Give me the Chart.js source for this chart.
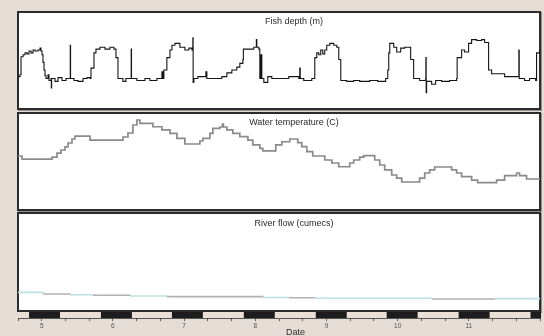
<!DOCTYPE html>
<html><head><meta charset="utf-8">
<script src="https://cdn.jsdelivr.net/npm/chart.js@4.4.1/dist/chart.umd.min.js"></script>
<style>
html,body{margin:0;padding:0;width:544px;height:336px;overflow:hidden;background:#e5dcd5;font-family:"Liberation Sans",Arial,sans-serif;}
.panel{position:absolute;left:17px;width:524px;box-sizing:border-box;border:2px solid #2c2c2c;background:#fff;box-shadow:1px 1px 0 #8e8e8e;}
canvas{position:absolute;left:17px;}
.ttl{position:absolute;left:294px;transform:translateX(-50%);font-size:9px;line-height:11px;color:#2a2a2a;white-space:nowrap;}
</style></head><body>
<div class="panel" style="top:11px;height:99px"></div>
<div class="panel" style="top:112px;height:99px"></div>
<div class="panel" style="top:212px;height:100px"></div>
<canvas id="c1" width="524" height="99" style="top:11px;width:524px;height:99px"></canvas>
<canvas id="c2" width="524" height="99" style="top:112px;width:524px;height:99px"></canvas>
<canvas id="c3" width="524" height="130" style="top:212px;width:524px;height:130px"></canvas>
<div class="ttl" style="top:15.5px">Fish depth (m)</div>
<div class="ttl" style="top:116.5px">Water temperature (C)</div>
<div class="ttl" style="top:217.5px">River flow (cumecs)</div>
<div class="ttl" style="top:327px;left:295.5px">Date</div>
<script>
// ---- data ----
const dayLabels = [5, 6, 7, 8, 9, 10, 11];

const depthDays = [
 4.667,4.695,4.709,4.738,4.766,4.794,4.822,4.850,4.878,4.906,
 4.948,4.976,4.990,5.004,5.018,5.032,5.046,5.060,5.088,5.102,
 5.131,5.135,5.139,5.187,5.229,5.285,5.341,5.397,5.401,5.405,
 5.453,5.509,5.580,5.636,5.678,5.692,5.734,5.762,5.818,5.888,
 5.958,6.015,6.043,6.071,6.141,6.183,6.253,6.257,6.261,6.337,
 6.450,6.520,6.618,6.688,6.702,6.716,6.758,6.801,6.829,6.871,
 6.941,7.011,7.067,7.109,7.123,7.127,7.137,7.194,7.264,7.306,
 7.320,7.404,7.502,7.530,7.601,7.671,7.741,7.783,7.826,7.833,
 7.923,7.979,8.015,8.022,8.050,8.064,8.078,8.092,8.120,8.176,
 8.232,8.471,8.611,8.625,8.632,8.681,8.794,8.836,8.864,8.892,
 8.920,8.948,8.976,9.004,9.047,9.103,9.145,9.173,9.201,9.285,
 9.383,9.467,9.608,9.720,9.832,9.861,9.875,9.889,9.945,9.987,
 10.043,10.099,10.155,10.183,10.225,10.309,10.393,10.397,10.401,10.407,
 10.478,10.534,10.618,10.730,10.829,10.836,10.899,10.941,10.997,11.039,
 11.110,11.180,11.222,11.278,11.320,11.432,11.503,11.629,11.699,11.703,
 11.708,11.783,11.853,11.938,11.952,11.994,12.0];
const depthMetres = [
 6.7,6.5,4.6,4.4,4.2,4.3,4.0,4.2,3.9,4.0,
 3.9,3.7,4.0,4.4,5.2,6.0,6.6,6.9,6.5,7.1,
 6.9,7.9,6.9,7.2,6.8,7.1,6.9,6.9,3.4,6.9,
 7.1,7.2,6.9,6.8,6.9,5.8,4.2,3.8,3.6,3.8,
 3.6,3.8,4.7,6.9,7.2,6.9,6.9,3.8,6.9,7.1,
 6.9,7.1,6.9,6.2,6.9,6.0,4.7,3.9,3.4,3.2,
 3.6,3.9,3.7,3.9,2.6,7.3,6.9,6.7,6.7,6.2,
 6.9,6.9,6.9,6.7,6.3,6.0,5.7,5.3,4.9,3.8,
 3.8,3.6,2.8,3.6,3.8,6.9,4.4,6.9,7.3,6.7,
 6.9,6.7,6.9,5.8,6.9,7.1,6.9,4.7,4.2,4.4,
 3.9,4.3,3.9,3.4,3.2,3.4,3.6,4.9,7.1,7.2,
 7.1,7.2,7.1,7.2,6.9,6.0,4.2,3.2,3.6,4.1,
 3.7,3.6,3.6,4.9,6.9,7.1,6.9,4.7,8.4,7.2,
 7.5,7.1,7.2,7.1,6.9,4.7,3.9,4.1,3.2,2.8,
 2.9,2.8,3.1,6.0,6.4,6.4,6.7,6.7,6.7,3.9,
 6.9,7.1,6.9,7.1,4.2,4.1,4.1];

const tempDays = [4.667,4.724,5.145,5.215,5.271,5.327,5.369,5.425,5.467,5.678,
 6.141,6.211,6.281,6.337,6.380,6.562,6.688,6.801,6.899,7.011,
 7.222,7.264,7.362,7.404,7.502,7.538,7.552,7.601,7.685,7.783,
 7.896,7.966,8.064,8.106,8.288,8.373,8.485,8.597,8.653,8.724,
 8.808,8.976,9.075,9.173,9.327,9.383,9.467,9.524,9.678,9.748,
 9.818,9.917,9.987,10.057,10.309,10.380,10.450,10.520,10.759,10.829,
 10.899,11.039,11.124,11.390,11.503,11.671,11.713,11.811,12.0];
const tempC = [15.58,15.26,15.47,15.89,16.21,16.53,16.95,17.37,17.68,17.26,
 17.58,18.0,18.84,19.37,19.02,18.66,18.32,17.97,17.44,16.84,
 17.16,17.44,17.97,18.49,18.63,18.95,18.63,18.32,17.97,17.61,
 17.26,16.74,16.39,16.11,16.74,17.08,17.37,16.98,16.56,16.03,
 15.58,15.16,14.84,14.45,14.84,15.16,15.47,15.61,15.16,14.63,
 14.11,13.58,13.26,12.84,13.26,13.79,14.11,14.42,14.11,13.79,
 13.4,13.05,12.77,13.05,13.51,13.79,13.51,13.16,13.16];

const flowDays = [4.667,5.018,5.397,5.720,6.239,6.758,8.106,8.471,8.836,10.478,11.362,12.0];
const flowCumecs = [18.4,16.7,15.9,15.3,14.6,13.9,13.0,12.8,12.2,11.5,11.8,11.8];

const nightStart = [4.822,5.832,6.829,7.839,8.850,9.846,10.857,11.867];
const nightEnd   = [5.257,6.267,7.264,8.274,9.285,10.281,11.292,12.3];

// ---- chart setup ----
const X_MIN = 14/3, X_MAX = 12;
const tickVals = [];
for (let k = 14; k <= 36; k++) tickVals.push(k/3);
const pts = (xs, ys) => xs.map((x, i) => ({x, y: ys[i]}));

Chart.defaults.font.family = '"Liberation Sans", Arial, sans-serif';

function opts(yMin, yMax, reverse, padBottom) {
  return {
    responsive:false, animation:false, devicePixelRatio:1,
    layout:{padding:{left:1,right:1,top:2,bottom:padBottom}},
    plugins:{legend:{display:false}, tooltip:{enabled:false}, title:{display:false}},
    elements:{point:{radius:0}},
    scales:{
      x:{type:'linear', min:X_MIN, max:X_MAX, display:false},
      y:{min:yMin, max:yMax, reverse:reverse, display:false}
    }
  };
}

new Chart(document.getElementById('c1'), {
  type:'line',
  data:{datasets:[{data:pts(depthDays, depthMetres), borderColor:'#151515', borderWidth:1.1, stepped:true, fill:false}]},
  options:opts(0, 10, true, 2)
});

new Chart(document.getElementById('c2'), {
  type:'line',
  data:{datasets:[{data:pts(tempDays, tempC), borderColor:'#8a8a8a', borderWidth:1.7, stepped:true, fill:false}]},
  options:opts(10, 20, false, 2)
});

const BAR_H = 6;
const nightBar = {
  id:'nightBar',
  beforeDatasetsDraw(chart){
    const {ctx, chartArea:a, scales:{x}} = chart;
    const top = a.bottom - BAR_H;
    ctx.save();
    ctx.fillStyle = '#eadfd5';
    ctx.fillRect(a.left, top, a.right - a.left, BAR_H);
    ctx.fillStyle = '#1c1c1c';
    nightStart.forEach((s, i) => {
      const x0 = Math.max(x.getPixelForValue(s), a.left);
      const x1 = Math.min(x.getPixelForValue(nightEnd[i]), a.right + 1);
      ctx.fillRect(x0, top, x1 - x0, BAR_H);
    });
    ctx.restore();
  }
};

const o3 = opts(-8.333, 100, false, 0);
o3.scales.x = {
  type:'linear', min:X_MIN, max:X_MAX, display:true, position:'bottom',
  afterFit: s => { s.height = 24; },
  afterBuildTicks: axis => { axis.ticks = tickVals.map(v => ({value:v})); },
  grid:{drawOnChartArea:false, tickLength:3, color:'#555', lineWidth:1},
  border:{display:true, color:'#555', width:1},
  ticks:{
    autoSkip:false, maxRotation:0, minRotation:0, padding:1, color:'#555',
    font:{size:6.5},
    callback: v => { const r = Math.round(v); return (Math.abs(v - r) < 1e-6 && dayLabels.includes(r)) ? String(r) : ''; }
  }
};
new Chart(document.getElementById('c3'), {
  type:'line',
  data:{datasets:[{data:pts(flowDays, flowCumecs), borderWidth:1.6, stepped:true, fill:false,
    borderColor:'#bde0e4',
    segment:{borderColor: c => (c.p0DataIndex % 2) ? '#b2b2b2' : '#bde0e4'}}]},
  options:o3,
  plugins:[nightBar]
});
</script>
</body></html>
